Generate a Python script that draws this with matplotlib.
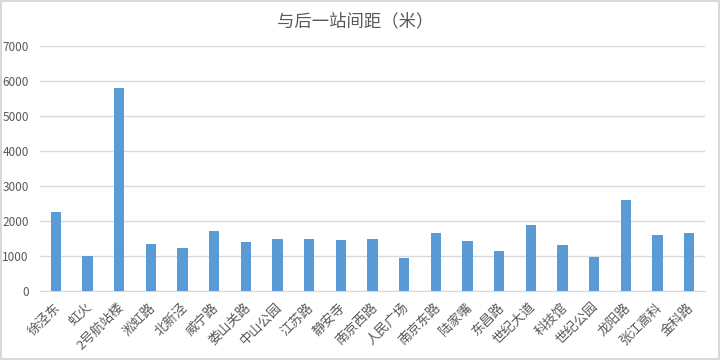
import matplotlib.pyplot as plt
import matplotlib.transforms as mtransforms
import numpy as np

plt.rcParams['font.family'] = ['Noto Sans CJK SC', 'DejaVu Sans']

stations = ['徐泾东', '虹火', '2号航站楼', '淞虹路', '北新泾', '威宁路', '娄山关路',
            '中山公园', '江苏路', '静安寺', '南京西路', '人民广场', '南京东路', '陆家嘴',
            '东昌路', '世纪大道', '科技馆', '世纪公园', '龙阳路', '张江高科', '金科路']
distances = [2265, 990, 5780, 1350, 1240, 1710, 1400,
             1485, 1485, 1455, 1485, 945, 1665, 1420,
             1150, 1890, 1305, 975, 2590, 1600, 1645]
yticks = [0, 1000, 2000, 3000, 4000, 5000, 6000, 7000]

bar_color = '#5B9BD5'
grid_color = '#D9D9D9'
text_color = '#595959'

fig = plt.figure(figsize=(7.2, 3.6), dpi=100)
fig.patch.set_edgecolor('#D9D9D9')
fig.patch.set_linewidth(1.5)
ax = fig.add_axes([40 / 720, 1 - 291 / 360, 665 / 720, (291 - 45.7) / 360])

x = np.arange(len(stations))
ax.bar(x, distances, width=0.32, color=bar_color, zorder=3)

ax.set_xlim(-0.5, len(stations) - 0.5)
ax.set_ylim(0, 7000)
ax.set_yticks(yticks)
ax.set_yticklabels([str(v) for v in yticks], fontsize=8.5, color=text_color)
ax.set_xticks(x)
ax.set_xticklabels(stations, rotation=45, ha='right', rotation_mode='anchor',
                   fontsize=9.5, color=text_color)
ax.tick_params(axis='both', length=0)
ax.tick_params(axis='y', pad=8)
ax.tick_params(axis='x', pad=7)

# nudge the rotated labels a little to the left, like the original
shift = mtransforms.ScaledTranslation(-2 / 100, 0, fig.dpi_scale_trans)
for lbl in ax.get_xticklabels():
    lbl.set_transform(lbl.get_transform() + shift)

ax.grid(axis='y', color=grid_color, linewidth=1, zorder=0)
for side in ['top', 'right', 'left']:
    ax.spines[side].set_visible(False)
ax.spines['bottom'].set_color(grid_color)

fig.text(0.493, 1 - 21 / 360, '与后一站间距（米）', ha='center', va='center',
         fontsize=12.5, color=text_color)

fig.savefig('out.png', dpi=100, edgecolor=fig.get_edgecolor())
